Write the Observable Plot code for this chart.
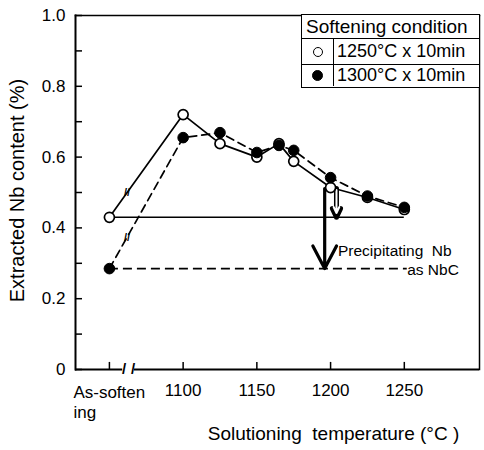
<!DOCTYPE html>
<html><head><meta charset="utf-8">
<script src="https://cdn.jsdelivr.net/npm/d3@7"></script>
<script src="https://cdn.jsdelivr.net/npm/@observablehq/plot@0.6"></script>
<style>
body{margin:0;background:#fff;}
#wrap{position:relative;width:484px;height:450px;font-family:"Liberation Sans",Arial,sans-serif;}
#legend{position:absolute;left:301px;top:14px;width:179px;height:74px;box-sizing:border-box;border:1.5px solid #000;background:#fff;color:#000;}
#legend .row{position:absolute;left:0;right:0;box-sizing:border-box;display:flex;align-items:center;white-space:nowrap;}
#legend .hdr{top:0;height:24px;font-size:19px;padding-left:4px;border-bottom:1.5px solid #000;}
#legend .r1{top:24px;height:26px;font-size:18px;border-bottom:1.5px solid #000;}
#legend .r2{top:50px;height:21px;font-size:18px;}
#legend .sym{width:32px;height:100%;box-sizing:border-box;border-right:1.5px solid #000;display:flex;align-items:center;justify-content:center;margin-right:3px;}
.dot{display:inline-block;width:10px;height:10px;border-radius:50%;border:1.6px solid #000;box-sizing:border-box;}
.dot.f{background:#000;width:11px;height:11px;}
</style>
</head><body><div id="wrap"></div>
<script>
// Data
const temps = [1050, 1100, 1125, 1150, 1165, 1175, 1200, 1225, 1250]; // 1050 = "As-softening"
const open1250 = [0.43, 0.72, 0.638, 0.60, 0.638, 0.588, 0.514, 0.486, 0.452];
const filled1300 = [0.285, 0.655, 0.669, 0.613, 0.633, 0.619, 0.542, 0.49, 0.458];
const seriesNames = ["1250\u00b0C x 10min", "1300\u00b0C x 10min"];
const legendTitle = "Softening condition";
const xTicks = [1050, 1100, 1150, 1200, 1250];
const xTickLabels = ["As-soften\ning", "1100", "1150", "1200", "1250"];
const yMinorTicks = [0, 0.1, 0.2, 0.3, 0.4, 0.5, 0.6, 0.7, 0.8, 0.9, 1.0];
const yLabelTicks = [0, 0.2, 0.4, 0.6, 0.8, 1.0];
const yTickLabels = ["0", "0.2", "0.4", "0.6", "0.8", "1.0"];
// Precipitation arrows: x, from, to
const arrowX = [1196, 1204];
const arrowFrom = [0.511, 0.511];
const arrowTo = [0.285, 0.43];
const annot1 = "Precipitating\u00a0 Nb";
const annot2 = "as NbC";
const xTitle = "Solutioning\u00a0 temperature (\u00b0C )";
const yTitle = "Extracted Nb content (%)";

const openData = temps.map((t, i) => ({x: t, y: open1250[i]}));
const filledData = temps.map((t, i) => ({x: t, y: filled1300[i]}));
const breakX = 1062;
const interp = (d) => d[0].y + (d[1].y - d[0].y) * (breakX - d[0].x) / (d[1].x - d[0].x);
const breaks = [{x: breakX, y: interp(openData)}, {x: breakX, y: interp(filledData)}];
const xDom = [1027, 1301];
const tickLen = (xDom[1] - xDom[0]) * 7 / 404;

const chart = Plot.plot({
  width: 484, height: 450,
  marginLeft: 75, marginRight: 5, marginTop: 15, marginBottom: 81,
  style: {fontFamily: '"Liberation Sans", Arial, sans-serif', fontSize: "17px", color: "#000", background: "#fff"},
  x: {domain: xDom},
  y: {domain: [0, 1]},
  marks: [
    Plot.frame({anchor: "left", strokeWidth: 2}),
    Plot.frame({anchor: "top", strokeWidth: 1.5}),
    Plot.frame({anchor: "right", strokeWidth: 1.5}),
    Plot.ruleY([0], {x1: xDom[0], x2: 1059, strokeWidth: 2}),
    Plot.ruleY([0], {x1: 1067, x2: xDom[1], strokeWidth: 2}),
    Plot.text([1060, 1066], {x: d => d, y: 0, text: () => "/", fontSize: 15, fontWeight: "bold"}),
    Plot.ruleY(yMinorTicks, {x1: xDom[0], x2: xDom[0] + tickLen, strokeWidth: 1.5}),
    Plot.ruleX(xTicks, {y1: 0, y2: 0.02, strokeWidth: 1.5}),
    Plot.axisY(yLabelTicks, {tickSize: 0, tickPadding: 10, tickFormat: (d, i) => yTickLabels[i], fontSize: 17, label: null}),
    Plot.axisX(xTicks.slice(1), {tickSize: 0, tickPadding: 14, tickFormat: (d) => xTickLabels[xTicks.indexOf(d)], fontSize: 17, label: null}),
    Plot.text([xTickLabels[0]], {x: xTicks[0], y: 0, dx: -36, dy: 14, textAnchor: "start", lineAnchor: "top", lineHeight: 1.2, fontSize: 17}),
    Plot.text([xTitle], {frameAnchor: "bottom", textAnchor: "middle", dx: 56, dy: 57, lineAnchor: "top", fontSize: 19}),
    Plot.text([yTitle], {frameAnchor: "left", textAnchor: "middle", rotate: -90, dx: -58, dy: -2, fontSize: 20}),
    // baseline levels (as-softened)
    Plot.ruleY([open1250[0]], {x1: temps[0], x2: 1250, strokeWidth: 1.4}),
    Plot.ruleY([filled1300[0]], {x1: temps[0], x2: 1252, strokeWidth: 1.7, strokeDasharray: "9,5"}),
    // series lines
    Plot.line(openData, {x: "x", y: "y", stroke: "#000", strokeWidth: 1.7}),
    Plot.line(filledData, {x: "x", y: "y", stroke: "#000", strokeWidth: 1.7, strokeDasharray: "8,5"}),
    Plot.text(breaks, {x: "x", y: "y", text: () => "//", fontSize: 11, fontWeight: "bold"}),
    // arrows
    Plot.arrow([0], {x1: arrowX[0], x2: arrowX[0], y1: arrowFrom[0], y2: arrowTo[0], stroke: "#000", strokeWidth: 3.2, headLength: 12, headAngle: 55}),
    Plot.arrow([0], {x1: arrowX[1], x2: arrowX[1], y1: arrowFrom[1], y2: arrowTo[1], stroke: "#000", strokeWidth: 5, headLength: 9, headAngle: 50}),
    Plot.arrow([0], {x1: arrowX[1], x2: arrowX[1], y1: arrowFrom[1] - 0.004, y2: arrowTo[1] + 0.012, stroke: "#fff", strokeWidth: 2, headLength: 5, headAngle: 50}),
    // points
    Plot.dot(openData, {x: "x", y: "y", r: 5, fill: "#fff", stroke: "#000", strokeWidth: 1.7}),
    Plot.dot(filledData, {x: "x", y: "y", r: 5.3, fill: "#000", stroke: "#000", strokeWidth: 1}),
    Plot.text([annot1], {x: 1205, y: 0.336, textAnchor: "start", fontSize: 15.5}),
    Plot.text([annot2], {x: 1287, y: 0.28, textAnchor: "end", fontSize: 15.5})
  ]
});
const wrap = document.getElementById("wrap");
wrap.appendChild(chart);

const legend = document.createElement("div");
legend.id = "legend";
legend.innerHTML = `<div class="row hdr">${legendTitle}</div>
<div class="row r1"><div class="sym"><span class="dot"></span></div>${seriesNames[0]}</div>
<div class="row r2"><div class="sym"><span class="dot f"></span></div>${seriesNames[1]}</div>`;
wrap.appendChild(legend);
</script>
</body></html>
